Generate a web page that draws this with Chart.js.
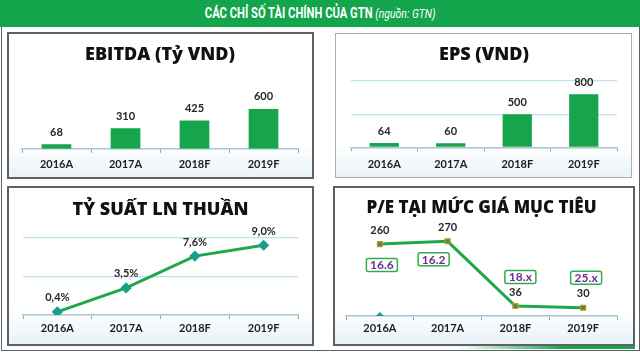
<!DOCTYPE html>
<html>
<head>
<meta charset="utf-8">
<script src="https://cdn.jsdelivr.net/npm/chart.js@4.4.1/dist/chart.umd.min.js"></script>
<style>
  html, body { margin: 0; padding: 0; background: #fff; }
  #page { position: relative; width: 640px; height: 353px; overflow: hidden; background: #fff; }
  #header {
    position: absolute; left: 0; top: 0; width: 640px; height: 27px;
    background: #13a54b; color: #fff; text-align: center; line-height: 27px;
    font-family: Roboto, sans-serif; font-size: 14px;
  }
  #header span { display: inline-block; transform: scaleX(0.8); white-space: nowrap; }
  #header b { font-weight: 700; }
  #header i { font-weight: 400; font-size: 13px; }
  #frame { position: absolute; left: 1px; top: 27px; width: 637px; height: 323px; border: 1px solid #5a5f63; border-top: none; }
  .panel {
    position: absolute; box-sizing: border-box; border: 2px solid #5b6166;
    background: linear-gradient(to bottom, #ffffff 78%, #e9f2f7 100%);
  }
  .panel.light { border-color: #a3b1b8; border-width: 1.5px; }
  canvas { position: absolute; }
  #stripe { position: absolute; left: 457px; top: 346px; width: 178px; height: 3px;
    background: linear-gradient(to right, rgba(25,165,75,0), #19a54b 60%); }
</style>
</head>
<body>
<div id="page">
  <div id="header"><span><b>CÁC CHỈ SỐ TÀI CHÍNH CỦA GTN</b> <i>(nguồn: GTN)</i></span></div>
  <div id="frame"></div>
  <div class="panel" style="left:7px;top:32px;width:307px;height:147px"></div>
  <div class="panel light" style="left:335px;top:33px;width:297px;height:145px"></div>
  <div class="panel" style="left:7px;top:186px;width:307px;height:160px"></div>
  <div class="panel" style="left:333px;top:186px;width:302px;height:160px"></div>
  <div id="stripe"></div>
  <canvas id="c1" width="304" height="143" style="left:8px;top:34px"></canvas>
  <canvas id="c2" width="295" height="145" style="left:336px;top:34px"></canvas>
  <canvas id="c3" width="304" height="156" style="left:8px;top:188px"></canvas>
  <canvas id="c4" width="298" height="156" style="left:335px;top:188px"></canvas>
</div>
<script>
// data
const categories = ['2016A', '2017A', '2018F', '2019F'];
const ebitda = [68, 310, 425, 600];          // tỷ VND
const eps = [64, 60, 500, 800];              // VND
const netMargin = [0.4, 3.5, 7.6, 9.0];      // %
const peTarget = [260, 270, 36, 30];
const peBoxes = ['16.6', '16.2', '18.x', '25.x'];
const peMarker = [0, null, null, null];

const green = '#16a54a';
const lineGreen = '#1ea84c';
const FONT = 'Lato, "Open Sans", sans-serif';
const TITLE_FONT = '"Open Sans", Lato, sans-serif';

// draws the value of each point of dataset 0 above it
function valueLabels(fmt, gap) {
  return {
    id: 'valueLabels',
    afterDatasetsDraw(chart) {
      const ctx = chart.ctx;
      const meta = chart.getDatasetMeta(0);
      ctx.save();
      ctx.font = 'bold 11px ' + FONT;
      ctx.fillStyle = '#262626';
      ctx.textAlign = 'center';
      ctx.textBaseline = 'middle';
      meta.data.forEach((el, i) => {
        ctx.fillText(fmt(chart.data.datasets[0].data[i]), el.x, el.y - gap);
      });
      ctx.restore();
    }
  };
}

// P/E boxes next to the points
const boxOffsets = [[2, 21], [-14, 18], [5, -29], [3, -30]];
const peBoxPlugin = {
  id: 'peBoxes',
  afterDatasetsDraw(chart) {
    const ctx = chart.ctx;
    const meta = chart.getDatasetMeta(0);
    ctx.save();
    ctx.font = 'bold 12px ' + FONT;
    ctx.textAlign = 'center';
    ctx.textBaseline = 'middle';
    meta.data.forEach((el, i) => {
      const cx = el.x + boxOffsets[i][0];
      const cy = el.y + boxOffsets[i][1];
      const w = 31, h = 13;
      ctx.beginPath();
      ctx.roundRect(cx - w / 2, cy - h / 2, w, h, 2);
      ctx.fillStyle = '#fff';
      ctx.fill();
      ctx.lineWidth = 1.5;
      ctx.strokeStyle = '#2fae4c';
      ctx.stroke();
      ctx.fillStyle = '#6b2d93';
      ctx.fillText(peBoxes[i], cx, cy + 0.5);
    });
    ctx.restore();
  }
};

function xAxis(pad) {
  return {
    offset: true,
    grid: { display: true, drawOnChartArea: false, drawTicks: true, tickLength: 4, color: '#8ea4ae', offset: true },
    border: { display: true, color: '#a9c6d3', width: 1.5 },
    ticks: { color: '#1e1e1e', padding: pad, font: { family: FONT, size: 11, weight: 'bold' } }
  };
}

function titleOpt(text, size, top, bottom) {
  return {
    display: true, text: text, color: '#111',
    font: { family: TITLE_FONT, size: size, weight: '800', lineHeight: 1.2 },
    padding: { top: top, bottom: bottom }
  };
}

const common = { responsive: false, animation: false, devicePixelRatio: 1 };

new Chart(document.getElementById('c1'), {
  type: 'bar',
  data: { labels: categories, datasets: [{ data: ebitda, backgroundColor: green, barPercentage: 0.43, categoryPercentage: 1 }] },
  options: Object.assign({}, common, {
    layout: { padding: { left: 14, right: 14, top: 0, bottom: 1 } },
    plugins: { legend: { display: false }, tooltip: { enabled: false }, title: titleOpt('EBITDA (Tỷ VND)', 18, 10.2, 23.2) },
    scales: { x: xAxis(5), y: { display: false, min: 0, max: 900 } }
  }),
  plugins: [valueLabels(v => String(v), 12)]
});

new Chart(document.getElementById('c2'), {
  type: 'bar',
  data: { labels: categories, datasets: [{ data: eps, backgroundColor: green, barPercentage: 0.44, categoryPercentage: 1 }] },
  options: Object.assign({}, common, {
    layout: { padding: { left: 15, right: 14, top: 0, bottom: 0.5 } },
    plugins: { legend: { display: false }, tooltip: { enabled: false }, title: titleOpt('EPS (VND)', 18, 10.2, 15.2) },
    scales: {
      x: xAxis(7),
      y: { min: 0, max: 1000, ticks: { display: false, stepSize: 500 }, border: { display: false },
           grid: { color: '#bfe2ee', lineWidth: 1.2, drawTicks: false } }
    }
  }),
  plugins: [valueLabels(v => String(v), 12)]
});

new Chart(document.getElementById('c3'), {
  type: 'line',
  data: { labels: categories, datasets: [{
    data: netMargin, borderColor: lineGreen, borderWidth: 3, tension: 0,
    pointStyle: 'rectRot', pointRadius: 3.5, pointBackgroundColor: '#16a089', pointBorderColor: '#16a089'
  }] },
  options: Object.assign({}, common, {
    layout: { padding: { left: 15, right: 14, top: 0, bottom: 5.8 } },
    plugins: { legend: { display: false }, tooltip: { enabled: false }, title: titleOpt('TỶ SUẤT LN THUẦN', 18, 11.2, 16.7) },
    scales: {
      x: xAxis(3),
      y: { min: 0, max: 10, ticks: { display: false, stepSize: 5 }, border: { display: false },
           grid: { color: '#bfe2ee', lineWidth: 1.2, drawTicks: false } }
    }
  }),
  plugins: [valueLabels(v => v.toFixed(1).replace('.', ',') + '%', 14)]
});

new Chart(document.getElementById('c4'), {
  type: 'line',
  data: { labels: categories, datasets: [{
    data: peTarget, borderColor: lineGreen, borderWidth: 3, tension: 0,
    pointStyle: 'rect', pointRadius: 3.5, pointBackgroundColor: '#1e9f48', pointBorderColor: '#e8892a', pointBorderWidth: 1.2
  }, {
    data: peMarker, showLine: false,
    pointStyle: 'rectRot', pointRadius: 3.5, pointBackgroundColor: '#16a08c', pointBorderColor: '#16a08c'
  }] },
  options: Object.assign({}, common, {
    layout: { padding: { left: 11, right: 16, top: 0, bottom: 6.8 } },
    plugins: { legend: { display: false }, tooltip: { enabled: false }, title: titleOpt('P/E TẠI MỨC GIÁ MỤC TIÊU', 17, 9.8, 14.8) },
    scales: { x: xAxis(2), y: { display: false, min: 0, max: 300 } }
  }),
  plugins: [valueLabels(v => String(v), 14), peBoxPlugin]
});
</script>
</body>
</html>
